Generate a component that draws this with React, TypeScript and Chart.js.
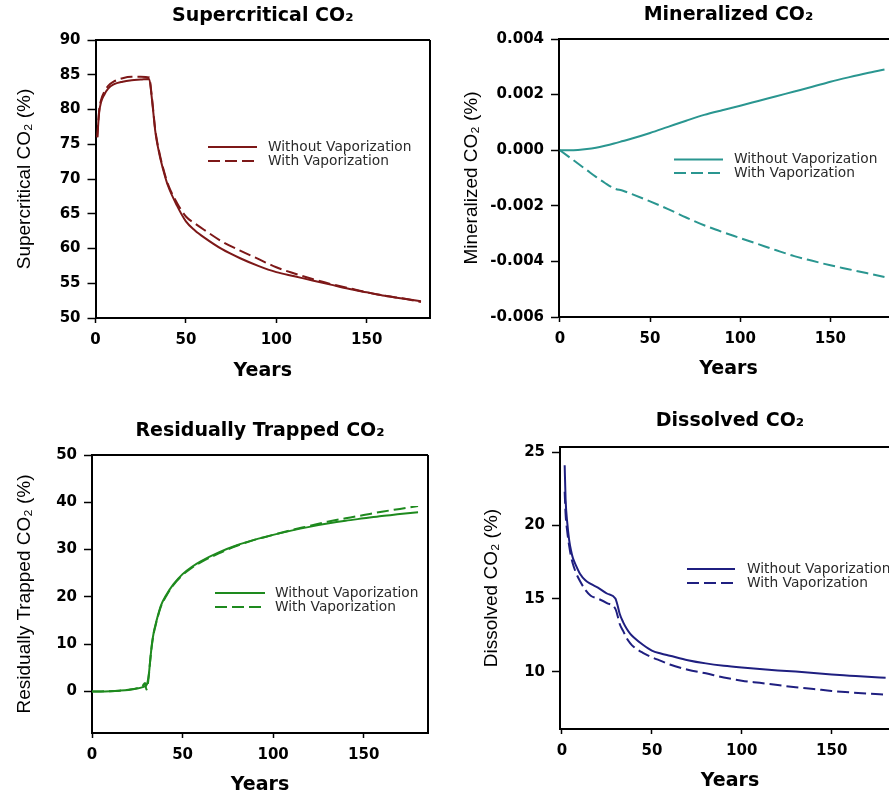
import React, { useEffect, useRef } from 'react';
import { Chart, registerables } from 'chart.js';

Chart.register(...registerables);

// ---------------- DATA ----------------
// Supercritical CO2 (%)
const scYears = [1, 2, 3, 5, 7, 10, 15, 20, 25, 29.7, 31, 32, 33, 34, 35, 36, 38, 40, 45, 50, 55, 60, 70, 80, 90, 100, 110, 120, 130, 140, 150, 160, 170, 180];
const scWithout = [76.0, 79.5, 81.0, 82.2, 83.0, 83.6, 84.0, 84.2, 84.3, 84.4, 82.0, 79.5, 77.0, 75.3, 74.0, 72.8, 70.8, 69.1, 66.2, 63.9, 62.6, 61.6, 59.9, 58.6, 57.5, 56.6, 56.0, 55.4, 54.8, 54.2, 53.7, 53.2, 52.8, 52.4];
const scWith = [76.0, 79.8, 81.3, 82.6, 83.4, 84.0, 84.5, 84.7, 84.7, 84.6, 82.2, 79.7, 77.2, 75.5, 74.2, 73.0, 71.0, 69.3, 66.6, 64.6, 63.6, 62.7, 61.0, 59.7, 58.5, 57.3, 56.4, 55.6, 54.9, 54.3, 53.7, 53.2, 52.8, 52.3];
const scYTicks = [50, 55, 60, 65, 70, 75, 80, 85, 90];

// Mineralized CO2 (%)
const mnYears = [0, 5, 10, 15, 20, 25, 30, 35, 40, 50, 60, 70, 80, 90, 100, 110, 120, 130, 140, 150, 160, 170, 180];
const mnWithout = [0, 0, 0.00001, 0.00004, 0.00009, 0.00016, 0.00024, 0.00033, 0.00042, 0.00062, 0.00084, 0.00106, 0.00127, 0.00144, 0.0016, 0.00177, 0.00194, 0.00211, 0.00228, 0.00246, 0.00262, 0.00277, 0.0029];
const mnWith = [0, -0.00024, -0.00048, -0.00072, -0.00096, -0.00118, -0.00137, -0.00146, -0.00158, -0.00184, -0.00212, -0.00242, -0.0027, -0.00294, -0.00316, -0.00338, -0.0036, -0.00381, -0.00398, -0.00414, -0.00428, -0.00442, -0.00456];
const mnYTicks = [-0.006, -0.004, -0.002, 0, 0.002, 0.004];

// Residually trapped CO2 (%)
const rtYears = [0, 5, 10, 15, 20, 25, 28, 29.3, 30, 30.7, 31.5, 32, 33, 34, 35, 36, 38, 41, 45, 50, 55, 60, 70, 80, 90, 100, 110, 120, 130, 140, 150, 160, 170, 180];
const rtWithout = [0, 0, 0.05, 0.15, 0.3, 0.6, 0.9, 1.1, 1.3, 2.0, 4.0, 6.0, 9.8, 12.3, 14.0, 15.5, 18.1, 20.4, 22.7, 24.8, 26.3, 27.5, 29.4, 30.9, 32.1, 33.1, 34.0, 34.8, 35.5, 36.1, 36.6, 37.1, 37.5, 37.9];
const rtWith = [0, 0, 0.05, 0.15, 0.35, 0.7, 1.2, 1.8, 0.4, 1.2, 3.8, 6.0, 9.6, 12.1, 13.8, 15.3, 17.9, 20.2, 22.5, 24.6, 26.1, 27.3, 29.2, 30.8, 32.1, 33.1, 34.1, 35.0, 35.9, 36.6, 37.3, 38.0, 38.6, 39.2];
const rtYTicks = [0, 10, 20, 30, 40, 50];

// Dissolved CO2 (%)
const dsYears = [1.5, 2, 3, 4, 5, 6, 8, 10, 13, 16, 20, 25, 29.7, 31, 32, 34, 36, 38, 40, 45, 50, 55, 60, 70, 80, 90, 100, 110, 120, 130, 140, 150, 160, 170, 180];
const dsWithout = [24.1, 21.8, 20.1, 19.0, 18.3, 17.8, 17.2, 16.7, 16.25, 16.0, 15.75, 15.35, 15.0, 14.5, 14.0, 13.4, 12.95, 12.6, 12.35, 11.85, 11.45, 11.25, 11.1, 10.8, 10.58, 10.42, 10.3, 10.2, 10.1, 10.02, 9.92, 9.82, 9.74, 9.66, 9.6];
const dsWith = [22.3, 20.8, 19.5, 18.6, 17.9, 17.4, 16.7, 16.2, 15.6, 15.2, 15.0, 14.7, 14.3, 13.8, 13.3, 12.8, 12.3, 11.95, 11.7, 11.3, 11.0, 10.75, 10.5, 10.15, 9.9, 9.62, 9.4, 9.25, 9.1, 8.95, 8.83, 8.7, 8.6, 8.52, 8.45];
const dsYTicks = [10, 15, 20, 25];

const xTicks = [0, 50, 100, 150];
const seriesLabels = ['Without Vaporization', 'With Vaporization'];

// ---------------- LAYOUT / STYLE ----------------
type Spec = {
  title: string;
  yTitle: string;
  color: string;
  years: number[];
  a: number[];
  b: number[];
  yTicks: number[];
  yMin: number;
  yMax: number;
  xMin: number;
  xMax: number;
  decimals: number;
  cx: number; cy: number; cw: number; ch: number;
  l: number; t: number; r: number; b2: number;
  titleY: number; yTitleBase: number; xTitleY: number;
  lg: { x1: number; x2: number; tx: number; y1: number; y2: number };
};

const TICK_FONT = { family: "'DejaVu Sans', sans-serif", size: 15, weight: 'bold' as const, lineHeight: 1.2 };
const TITLE_SIZE = 19;
const YTITLE_SIZE = 19;

const specs: Spec[] = [
  {
    title: 'Supercritical CO₂', yTitle: 'Supercritical CO₂ (%)', color: '#7d1818',
    years: scYears, a: scWithout, b: scWith, yTicks: scYTicks, yMin: 50, yMax: 90, xMin: 0, xMax: 185, decimals: 0,
    cx: 0, cy: 0, cw: 445, ch: 395, l: 95.5, t: 40, r: 430, b2: 318,
    titleY: 16.5, yTitleBase: 31.5, xTitleY: 371,
    lg: { x1: 208, x2: 257, tx: 268, y1: 147, y2: 161 },
  },
  {
    title: 'Mineralized CO₂', yTitle: 'Mineralized CO₂ (%)', color: '#2a9690',
    years: mnYears, a: mnWithout, b: mnWith, yTicks: mnYTicks, yMin: -0.006, yMax: 0.004, xMin: -0.5, xMax: 187.5, decimals: 3,
    cx: 445, cy: 0, cw: 444, ch: 395, l: 559, t: 39, r: 898, b2: 317,
    titleY: 15.5, yTitleBase: 478, xTitleY: 369,
    lg: { x1: 674, x2: 723, tx: 734, y1: 159.5, y2: 173 },
  },
  {
    title: 'Residually Trapped CO₂', yTitle: 'Residually Trapped CO₂ (%)', color: '#1e8a1e',
    years: rtYears, a: rtWithout, b: rtWith, yTicks: rtYTicks, yMin: -8.8, yMax: 50, xMin: 0, xMax: 185.5, decimals: 0,
    cx: 0, cy: 395, cw: 445, ch: 404, l: 92, t: 455, r: 428, b2: 733,
    titleY: 431, yTitleBase: 31.5, xTitleY: 785,
    lg: { x1: 215, x2: 265, tx: 275, y1: 593, y2: 607 },
  },
  {
    title: 'Dissolved CO₂', yTitle: 'Dissolved CO₂ (%)', color: '#1f1f80',
    years: dsYears, a: dsWithout, b: dsWith, yTicks: dsYTicks, yMin: 6.1, yMax: 25.35, xMin: -1.1, xMax: 188, decimals: 0,
    cx: 445, cy: 395, cw: 444, ch: 404, l: 560, t: 447, r: 900, b2: 729,
    titleY: 421, yTitleBase: 498, xTitleY: 781.5,
    lg: { x1: 687, x2: 735, tx: 747, y1: 569, y2: 583 },
  },
];

// Frame (top + right edge) drawn from the chart area; lines extend to the canvas edge when the plot is cut off.
const framePlugin = {
  id: 'frame',
  afterDraw(chart: any) {
    const { ctx, chartArea } = chart;
    const right = Math.min(chartArea.right, chart.width + 10);
    ctx.save();
    ctx.strokeStyle = '#000';
    ctx.lineWidth = 2;
    ctx.setLineDash([]);
    ctx.beginPath();
    ctx.moveTo(chartArea.left, Math.round(chartArea.top));
    ctx.lineTo(right, Math.round(chartArea.top));
    ctx.stroke();
    if (chartArea.right <= chart.width) {
      ctx.beginPath();
      ctx.moveTo(Math.round(chartArea.right), chartArea.top);
      ctx.lineTo(Math.round(chartArea.right), chartArea.bottom);
      ctx.stroke();
    }
    ctx.restore();
  },
};

const inlineLegendPlugin = {
  id: 'inlineLegend',
  afterDatasetsDraw(chart: any, _args: any, opts: any) {
    const { ctx } = chart;
    ctx.save();
    chart.data.datasets.forEach((ds: any, i: number) => {
      const y = i === 0 ? opts.y1 : opts.y2;
      ctx.strokeStyle = ds.borderColor;
      ctx.lineWidth = 2;
      ctx.setLineDash(ds.borderDash || []);
      ctx.beginPath();
      ctx.moveTo(opts.x1, y);
      ctx.lineTo(opts.x2, y);
      ctx.stroke();
      ctx.setLineDash([]);
      ctx.fillStyle = '#2a2a2a';
      ctx.font = "13.75px 'DejaVu Sans', sans-serif";
      ctx.textAlign = 'left';
      ctx.textBaseline = 'middle';
      ctx.fillText(ds.label, opts.tx, y);
    });
    ctx.restore();
  },
};

function buildConfig(s: Spec): any {
  // The chart area may extend past the visible canvas (cut-off panels), so the canvas is sized to hold it
  const L = s.l - s.cx;
  const T = s.t - s.cy;
  const R = s.r - s.cx;
  const B = s.b2 - s.cy;
  const tLH = TITLE_SIZE * 1.2;
  const titlePadTop = s.titleY - s.cy - tLH / 2;
  const titlePadBottom = T - titlePadTop - tLH;
  const xH = s.xTitleY - s.cy - B + tLH / 2;
  const yLH = YTITLE_SIZE * 1.2;
  const yMid = s.yTitleBase - s.cx - 0.3465 * YTITLE_SIZE;
  const yTitlePad = yMid - yLH / 2;

  const mk = (vals: number[]) => s.years.map((x, i) => ({ x, y: vals[i] }));

  return {
    type: 'line',
    data: {
      datasets: [
        {
          label: seriesLabels[0], data: mk(s.a), borderColor: s.color, borderWidth: 2,
          pointRadius: 0, fill: false, cubicInterpolationMode: 'monotone',
        },
        {
          label: seriesLabels[1], data: mk(s.b), borderColor: s.color, borderWidth: 2, borderDash: [12, 5],
          pointRadius: 0, fill: false, cubicInterpolationMode: 'monotone',
        },
      ],
    },
    options: {
      responsive: false,
      animation: false,
      devicePixelRatio: 1,
      layout: { padding: { left: 0, top: 0, right: canvasW(s) - R, bottom: s.ch - B - xH } },
      plugins: {
        legend: { display: false },
        tooltip: { enabled: false },
        title: {
          display: true,
          text: s.title,
          fullSize: false,
          color: '#000',
          font: { family: "'DejaVu Sans', sans-serif", size: TITLE_SIZE, weight: 'bold', lineHeight: 1.2 },
          padding: { top: titlePadTop, bottom: titlePadBottom },
        },
        inlineLegend: {
          x1: s.lg.x1 - s.cx, x2: s.lg.x2 - s.cx, tx: s.lg.tx - s.cx,
          y1: s.lg.y1 - s.cy, y2: s.lg.y2 - s.cy,
        },
      },
      scales: {
        x: {
          type: 'linear',
          position: 'bottom',
          min: s.xMin,
          max: s.xMax,
          afterBuildTicks: (sc: any) => { sc.ticks = xTicks.map((v) => ({ value: v })); },
          afterFit: (sc: any) => { sc.height = xH; },
          grid: { drawOnChartArea: false, drawTicks: true, tickLength: 5, tickWidth: 1.5, tickColor: '#000' },
          border: { display: true, color: '#000', width: 2 },
          ticks: { color: '#000', font: TICK_FONT, padding: 8, maxRotation: 0, autoSkip: false, callback: (v: number) => String(v) },
          title: {
            display: true, text: 'Years', color: '#000',
            font: { family: "'DejaVu Sans', sans-serif", size: TITLE_SIZE, weight: 'bold', lineHeight: 1.2 },
            padding: { top: 0, bottom: 0 },
          },
        },
        y: {
          type: 'linear',
          position: 'left',
          min: s.yMin,
          max: s.yMax,
          afterBuildTicks: (sc: any) => { sc.ticks = s.yTicks.map((v) => ({ value: v })); },
          afterFit: (sc: any) => { sc.width = L; },
          grid: { drawOnChartArea: false, drawTicks: true, tickLength: 8, tickWidth: 1.5, tickColor: '#000' },
          border: { display: true, color: '#000', width: 2 },
          ticks: {
            color: '#000', font: TICK_FONT, padding: 7, autoSkip: false,
            callback: (v: number) => v.toFixed(s.decimals),
          },
          title: {
            display: true, text: s.yTitle, color: '#000',
            font: { family: "'Liberation Sans', Arial, sans-serif", size: YTITLE_SIZE, weight: 'normal', lineHeight: 1.2 },
            padding: { top: yTitlePad, bottom: 0 },
          },
        },
      },
    },
    plugins: [framePlugin, inlineLegendPlugin],
  };
}

// canvas width: wide enough to contain the (possibly cut-off) chart area plus a margin
function canvasW(s: Spec) {
  return Math.max(s.cw, s.r - s.cx + 15);
}

function Panel({ spec }: { spec: Spec }) {
  const ref = useRef<HTMLCanvasElement>(null);
  const w = canvasW(spec);
  useEffect(() => {
    if (!ref.current) return;
    const chart = new Chart(ref.current, buildConfig(spec));
    return () => chart.destroy();
  }, [spec]);
  return (
    <canvas
      ref={ref}
      width={w}
      height={spec.ch}
      style={{ position: 'absolute', left: spec.cx, top: spec.cy, width: w, height: spec.ch }}
    />
  );
}

export default function App() {
  return (
    <div style={{ position: 'fixed', left: 0, top: 0, width: 889, height: 799, overflow: 'hidden', background: '#fff' }}>
      {specs.map((s) => (
        <Panel key={s.title} spec={s} />
      ))}
    </div>
  );
}
